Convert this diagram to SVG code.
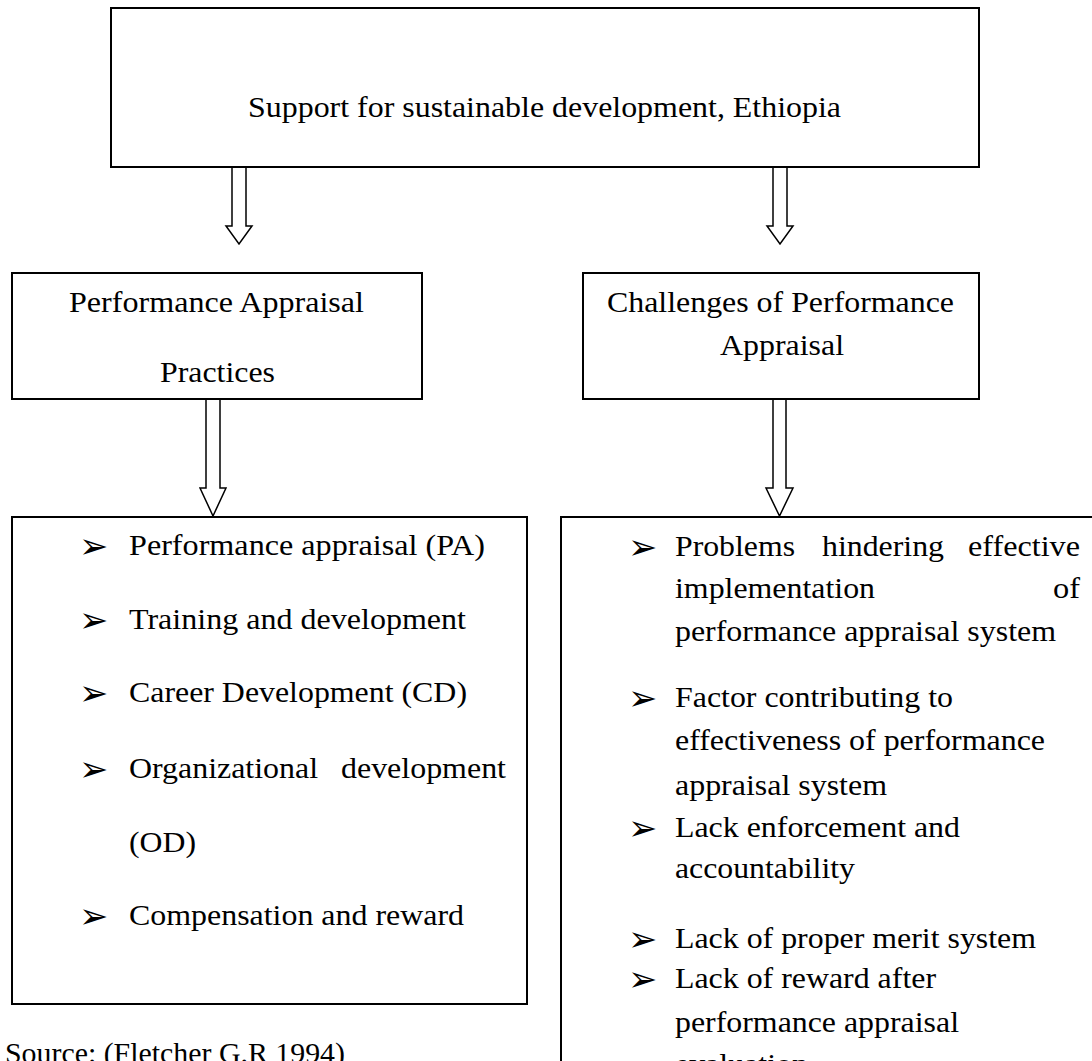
<svg xmlns="http://www.w3.org/2000/svg" width="1092" height="1061" viewBox="0 0 1092 1061">
<style>
.box{fill:#fff;stroke:#000;stroke-width:2}
.arr{fill:#fff;stroke:#000;stroke-width:1.5;stroke-linejoin:miter}
.t{font-family:'Liberation Serif','Times New Roman',serif;font-size:29px;fill:#000}
.b{font-family:'DejaVu Sans',sans-serif;font-size:35px;fill:#000}
</style>
<rect width="1092" height="1061" fill="#fff"/>
<g id="connectors">
<polygon class="arr" points="232,167 246,167 246,226 252,226 239,244 226,226 232,226"/>
<polygon class="arr" points="773,167 787,167 787,226 793,226 780,244 767,226 773,226"/>
<polygon class="arr" points="206,399 220,399 220,488 226,488 213,516 200,488 206,488"/>
<polygon class="arr" points="773,399 786,399 786,488 793,488 779.5,516 766,488 773,488"/>
</g>
<g id="top">
<rect class="box" x="111" y="8" width="868" height="159"/>
<text class="t" x="248" y="117" textLength="593" lengthAdjust="spacingAndGlyphs">Support for sustainable development, Ethiopia</text>
</g>
<g id="practices">
<rect class="box" x="12" y="273" width="410" height="126"/>
<text class="t" x="69" y="312" textLength="295" lengthAdjust="spacingAndGlyphs">Performance Appraisal</text>
<text class="t" x="160" y="382" textLength="115" lengthAdjust="spacingAndGlyphs">Practices</text>
</g>
<g id="challenges">
<rect class="box" x="583" y="273" width="396" height="126"/>
<text class="t" x="607" y="312" textLength="347" lengthAdjust="spacingAndGlyphs">Challenges of Performance</text>
<text class="t" x="720" y="355" textLength="124" lengthAdjust="spacingAndGlyphs">Appraisal</text>
</g>
<g id="practices-list">
<rect class="box" x="12" y="517" width="515" height="487"/>
<text class="b" x="79" y="558">➢</text>
<text class="t" x="129" y="555" textLength="356" lengthAdjust="spacingAndGlyphs">Performance appraisal (PA)</text>
<text class="b" x="79" y="632">➢</text>
<text class="t" x="129" y="629" textLength="337" lengthAdjust="spacingAndGlyphs">Training and development</text>
<text class="b" x="79" y="705">➢</text>
<text class="t" x="129" y="702" textLength="338" lengthAdjust="spacingAndGlyphs">Career Development (CD)</text>
<text class="b" x="79" y="781">➢</text>
<text class="t" x="129" y="778" textLength="189" lengthAdjust="spacingAndGlyphs">Organizational</text>
<text class="t" x="341" y="778" textLength="165" lengthAdjust="spacingAndGlyphs">development</text>
<text class="t" x="129" y="852" textLength="67" lengthAdjust="spacingAndGlyphs">(OD)</text>
<text class="b" x="79" y="928">➢</text>
<text class="t" x="129" y="925" textLength="335" lengthAdjust="spacingAndGlyphs">Compensation and reward</text>
</g>
<g id="challenges-list">
<rect class="box" x="561" y="517" width="560" height="580"/>
<text class="b" x="628" y="559">➢</text>
<text class="t" x="675" y="556" textLength="120" lengthAdjust="spacingAndGlyphs">Problems</text>
<text class="t" x="822" y="556" textLength="122" lengthAdjust="spacingAndGlyphs">hindering</text>
<text class="t" x="968" y="556" textLength="112" lengthAdjust="spacingAndGlyphs">effective</text>
<text class="t" x="675" y="598" textLength="200" lengthAdjust="spacingAndGlyphs">implementation</text>
<text class="t" x="1053" y="598" textLength="27" lengthAdjust="spacingAndGlyphs">of</text>
<text class="t" x="675" y="641" textLength="381" lengthAdjust="spacingAndGlyphs">performance appraisal system</text>
<text class="b" x="628" y="710">➢</text>
<text class="t" x="675" y="707" textLength="278" lengthAdjust="spacingAndGlyphs">Factor contributing to</text>
<text class="t" x="675" y="750" textLength="370" lengthAdjust="spacingAndGlyphs">effectiveness of performance</text>
<text class="t" x="675" y="795" textLength="212" lengthAdjust="spacingAndGlyphs">appraisal system</text>
<text class="b" x="628" y="840">➢</text>
<text class="t" x="675" y="837" textLength="285" lengthAdjust="spacingAndGlyphs">Lack enforcement and</text>
<text class="t" x="675" y="878" textLength="180" lengthAdjust="spacingAndGlyphs">accountability</text>
<text class="b" x="628" y="951">➢</text>
<text class="t" x="675" y="948" textLength="361" lengthAdjust="spacingAndGlyphs">Lack of proper merit system</text>
<text class="b" x="628" y="991">➢</text>
<text class="t" x="675" y="988" textLength="261" lengthAdjust="spacingAndGlyphs">Lack of reward after</text>
<text class="t" x="675" y="1032" textLength="284" lengthAdjust="spacingAndGlyphs">performance appraisal</text>
<text class="t" x="675" y="1074" textLength="133" lengthAdjust="spacingAndGlyphs">evaluation</text>
</g>
<g id="source">
<text class="t" x="5" y="1063" textLength="340" lengthAdjust="spacingAndGlyphs">Source: (Fletcher G.R 1994)</text>
</g>
</svg>
